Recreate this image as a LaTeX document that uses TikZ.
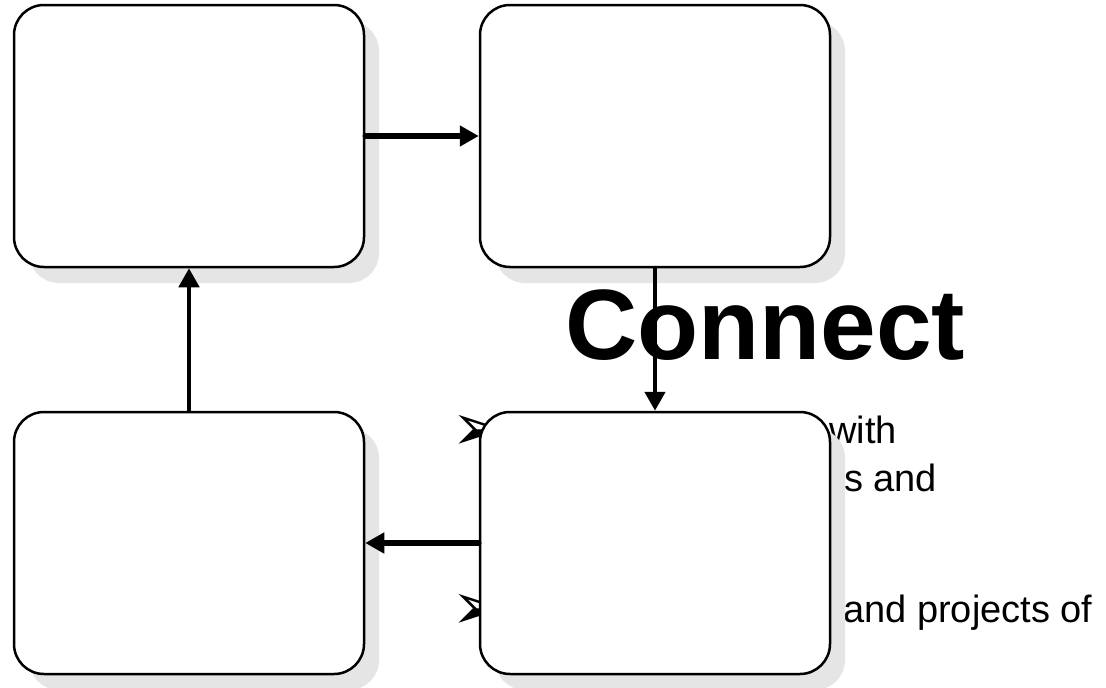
\documentclass[tikz,border=0pt]{standalone}
\usepackage{fontspec}
\setmainfont{Liberation Sans}
\newfontfamily\symfont{DejaVu Sans}
\usetikzlibrary{arrows.meta,shadows}
\begin{document}
\begin{tikzpicture}[x=1pt,y=-1pt,
  card/.style={draw=black, line width=2.5pt, fill=white, rounded corners=30pt,
    minimum width=350pt, minimum height=262pt, inner sep=0pt,
    drop shadow={shadow xshift=15pt, shadow yshift=-16pt, fill=black!10, opacity=1}},
  flow/.style={line width=4.5pt, line cap=round, -{Triangle[length=19pt,width=20pt]}},
  hflow/.style={flow, line width=5.5pt},
  body/.style={anchor=base west, inner sep=0pt, font=\fontsize{38}{38}\selectfont},
  bullet/.style={anchor=center, inner sep=0pt, font=\symfont\fontsize{66}{66}\selectfont}
]
\useasboundingbox (0,0) rectangle (1106,688);
\fill[white] (0,0) rectangle (1106,688);
% texts (behind the cards)
\node[anchor=base west, inner sep=0pt, font=\fontsize{100}{100}\selectfont\bfseries] (title) at (565,359) {Connect};
\node[bullet] (bl1) at (479,433) {➢};
\node[bullet] (bl2) at (479,612) {➢};
\node[body] (t1) at (829,443) {with};
\node[body] (t2) at (844,491) {s and};
\node[body] (t3) at (843,622) {and projects of};
% cards
\node[card] (b1) at (189,136) {};
\node[card] (b2) at (655,136) {};
\node[card] (b3) at (189,543) {};
\node[card] (b4) at (655,543) {};
% connectors
\draw[hflow] (b1.east) -- (b2.west);
\draw[flow] (b2.south) -- (b4.north);
\draw[hflow] (b4.west) -- (b3.east);
\draw[flow] (b3.north) -- (b1.south);
\end{tikzpicture}
\end{document}
